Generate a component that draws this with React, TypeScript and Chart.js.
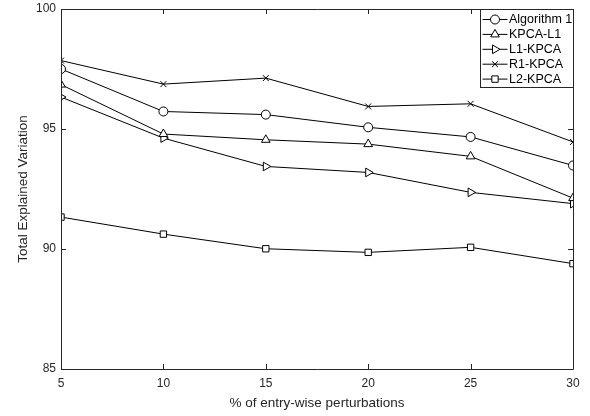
import React, { useEffect, useRef } from 'react';
import { Chart, registerables } from 'chart.js';

Chart.register(...registerables);

const xValues = [5, 10, 15, 20, 25, 30];
const algorithm1 = [97.5, 95.73, 95.6, 95.07, 94.67, 93.48];
const kpcaL1 = [96.85, 94.79, 94.55, 94.37, 93.86, 92.12];
const l1Kpca = [96.33, 94.62, 93.44, 93.19, 92.36, 91.89];
const r1Kpca = [97.85, 96.87, 97.12, 95.94, 96.05, 94.46];
const l2Kpca = [91.33, 90.62, 90.01, 89.86, 90.07, 89.39];
const seriesNames = ['Algorithm 1', 'KPCA-L1', 'L1-KPCA', 'R1-KPCA', 'L2-KPCA'];
const xTicks = [5, 10, 15, 20, 25, 30];
const yTicks = [85, 90, 95, 100];
const xTitle = '% of entry-wise perturbations';
const yTitle = 'Total Explained Variation';

const FONT = "'Liberation Sans', Arial, Helvetica, sans-serif";
const AXIS = '#262626';

const markerStyles = [
  { style: 'circle', radius: 4.5, rotation: 0 },
  { style: 'triangle', radius: 5, rotation: 0 },
  { style: 'triangle', radius: 5, rotation: 90 },
  { style: 'crossRot', radius: 4.2, rotation: 0 },
  { style: 'rect', radius: 4.5, rotation: 0 },
];

function drawMarker(ctx: CanvasRenderingContext2D, style: string, x: number, y: number, r: number, rotationDeg: number) {
  ctx.beginPath();
  let rad = (rotationDeg * Math.PI) / 180;
  if (style === 'circle') {
    ctx.arc(x, y, r, 0, Math.PI * 2);
    ctx.closePath();
    ctx.fill();
    ctx.stroke();
  } else if (style === 'triangle') {
    const t = (2 * Math.PI) / 3;
    ctx.moveTo(x + Math.sin(rad) * r, y - Math.cos(rad) * r);
    rad += t;
    ctx.lineTo(x + Math.sin(rad) * r, y - Math.cos(rad) * r);
    rad += t;
    ctx.lineTo(x + Math.sin(rad) * r, y - Math.cos(rad) * r);
    ctx.closePath();
    ctx.fill();
    ctx.stroke();
  } else if (style === 'rect') {
    const s = Math.SQRT1_2 * r;
    ctx.rect(x - s, y - s, 2 * s, 2 * s);
    ctx.fill();
    ctx.stroke();
  } else if (style === 'crossRot') {
    rad += Math.PI / 4;
    const cx = Math.cos(rad) * r;
    const sy = Math.sin(rad) * r;
    ctx.moveTo(x - cx, y - sy);
    ctx.lineTo(x + cx, y + sy);
    ctx.moveTo(x + sy, y - cx);
    ctx.lineTo(x - sy, y + cx);
    ctx.stroke();
  }
}

const framePlugin = {
  id: 'matlabFrame',
  afterDatasetsDraw(chart: any) {
    const { ctx, chartArea } = chart;
    const { left, right, top, bottom } = chartArea;
    const xs = chart.scales.x;
    const ys = chart.scales.y;
    const tl = 5;
    ctx.save();
    ctx.strokeStyle = AXIS;
    ctx.lineWidth = 1;
    ctx.beginPath();
    ctx.rect(Math.round(left) + 0.5, Math.round(top) + 0.5, Math.round(right - left), Math.round(bottom - top));
    ctx.stroke();
    ctx.beginPath();
    for (const v of xTicks) {
      const px = Math.round(xs.getPixelForValue(v)) + 0.5;
      ctx.moveTo(px, bottom);
      ctx.lineTo(px, bottom - tl);
      ctx.moveTo(px, top);
      ctx.lineTo(px, top + tl);
    }
    for (const v of yTicks) {
      const py = Math.round(ys.getPixelForValue(v)) + 0.5;
      ctx.moveTo(left, py);
      ctx.lineTo(left + tl, py);
      ctx.moveTo(right, py);
      ctx.lineTo(right - tl, py);
    }
    ctx.stroke();
    ctx.restore();
  },
};

const legendPlugin = {
  id: 'matlabLegend',
  afterDraw(chart: any) {
    const { ctx, chartArea } = chart;
    const w = 93;
    const h = 78;
    const bx = Math.round(chartArea.right - w) + 0.5;
    const by = Math.round(chartArea.top) + 0.5;
    ctx.save();
    ctx.fillStyle = '#ffffff';
    ctx.strokeStyle = AXIS;
    ctx.lineWidth = 1;
    ctx.fillRect(bx, by, w, h);
    ctx.strokeRect(bx, by, w, h);
    chart.data.datasets.forEach((ds: any, i: number) => {
      const y = by + 10 + i * 14.9;
      const m = markerStyles[i];
      ctx.strokeStyle = '#000000';
      ctx.fillStyle = '#ffffff';
      ctx.lineWidth = 1;
      ctx.beginPath();
      ctx.moveTo(bx + 2, y);
      ctx.lineTo(bx + 27, y);
      ctx.stroke();
      drawMarker(ctx, m.style, bx + 14.5, y, m.radius, m.rotation);
      ctx.fillStyle = '#000000';
      ctx.font = `12.5px ${FONT}`;
      ctx.textAlign = 'left';
      ctx.textBaseline = 'middle';
      ctx.fillText(ds.label, bx + 28.5, y + 0.5);
    });
    ctx.restore();
  },
};

export default function App() {
  const canvasRef = useRef<HTMLCanvasElement | null>(null);

  useEffect(() => {
    const canvas = canvasRef.current;
    if (!canvas) return;
    const series = [algorithm1, kpcaL1, l1Kpca, r1Kpca, l2Kpca];
    const datasets = series.map((vals, i) => ({
      label: seriesNames[i],
      data: vals.map((v, j) => ({ x: xValues[j], y: v })),
      borderColor: '#000000',
      borderWidth: 1,
      pointStyle: markerStyles[i].style,
      pointRadius: markerStyles[i].radius,
      pointRotation: markerStyles[i].rotation,
      pointBorderColor: '#000000',
      pointBackgroundColor: '#ffffff',
      pointBorderWidth: 1,
      fill: false,
      tension: 0,
    }));
    const chart = new Chart(canvas, {
      type: 'line',
      data: { datasets },
      options: {
        responsive: false,
        animation: false,
        devicePixelRatio: 1,
        layout: { padding: { left: 0, right: 17, top: 9, bottom: 0 } },
        plugins: { legend: { display: false }, tooltip: { enabled: false } },
        scales: {
          x: {
            type: 'linear',
            min: 5,
            max: 30,
            afterBuildTicks: (s: any) => {
              s.ticks = xTicks.map((v) => ({ value: v }));
            },
            afterFit: (s: any) => {
              s.height = 47;
              s.paddingLeft = 0;
              s.paddingRight = 0;
            },
            grid: { display: false, drawTicks: false },
            border: { display: false },
            ticks: { color: AXIS, font: { family: FONT, size: 12 }, padding: 7, maxRotation: 0 },
            title: {
              display: true,
              text: xTitle,
              color: AXIS,
              font: { family: FONT, size: 13.5 },
              padding: { top: 0, bottom: 5 },
            },
          },
          y: {
            type: 'linear',
            min: 85,
            max: 100,
            afterBuildTicks: (s: any) => {
              s.ticks = yTicks.map((v) => ({ value: v }));
            },
            afterFit: (s: any) => {
              s.width = 61;
              s.paddingTop = 0;
              s.paddingBottom = 0;
            },
            grid: { display: false, drawTicks: false },
            border: { display: false },
            ticks: { color: AXIS, font: { family: FONT, size: 12 }, padding: 5 },
            title: {
              display: true,
              text: yTitle,
              color: AXIS,
              font: { family: FONT, size: 13.5 },
              padding: { top: 15, bottom: 0 },
            },
          },
        },
      },
      plugins: [framePlugin, legendPlugin],
    } as any);
    return () => chart.destroy();
  }, []);

  return (
    <div style={{ position: 'fixed', left: 0, top: 0, width: 590, height: 416, background: '#ffffff' }}>
      <canvas ref={canvasRef} width={590} height={416} style={{ width: 590, height: 416, display: 'block' }} />
    </div>
  );
}
